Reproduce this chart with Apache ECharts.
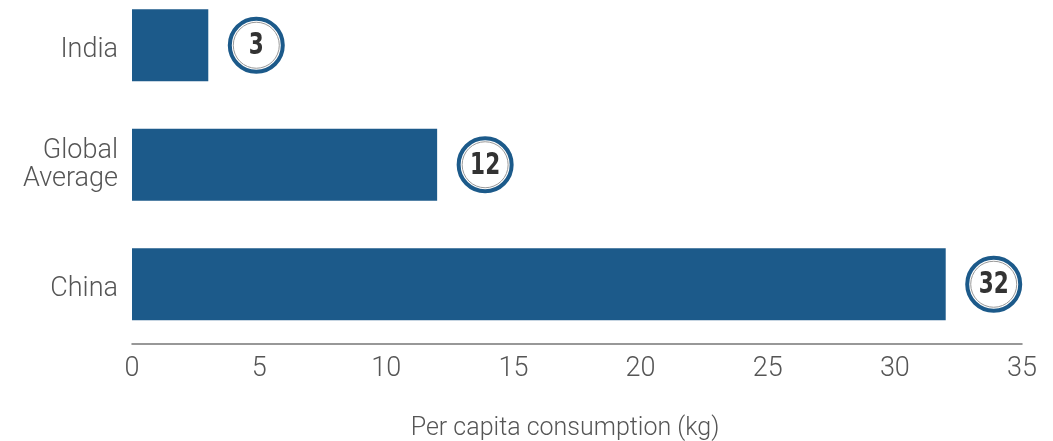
<!DOCTYPE html>
<html><head><meta charset="utf-8">
<script src="https://cdn.jsdelivr.net/npm/echarts@6/dist/echarts.min.js"></script>
<style>html,body{margin:0;padding:0;background:#fff}#c{width:1053px;height:441px}</style>
</head><body><div id="c"></div>
<script>
const categories = ['China', 'Global\nAverage', 'India'];
const values = [32, 12, 3];
const xTicks = [0, 35, 5];
const axisTitle = 'Per capita consumption (kg)';

const blue = '#1c5a8a';
const labelFont = { color: '#555', fontSize: 27, fontFamily: 'Roboto', fontWeight: 300 };
const chart = echarts.init(document.getElementById('c'));
chart.setOption({
  animation: false,
  grid: { left: 132, right: 31, top: -14.5, bottom: 97, containLabel: false, outerBoundsMode: 'none' },
  xAxis: {
    type: 'value', min: xTicks[0], max: xTicks[1], interval: xTicks[2],
    axisLine: { show: true, lineStyle: { color: '#777', width: 1.5 } },
    axisTick: { show: false }, splitLine: { show: false },
    axisLabel: Object.assign({ margin: 12 }, labelFont),
    name: axisTitle, nameLocation: 'middle', nameGap: 72,
    nameTextStyle: { color: '#555', fontSize: 25, fontFamily: 'Roboto', fontWeight: 300, padding: [0, 24, 0, 0] }
  },
  yAxis: {
    type: 'category', data: categories,
    axisLine: { show: false }, axisTick: { show: false },
    axisLabel: Object.assign({ margin: 14, lineHeight: 28,
      formatter: v => v.indexOf('\n') >= 0 ? v : '{s|' + v + '}',
      rich: { s: Object.assign({ padding: [10, 0, 0, 0], lineHeight: 28 }, labelFont) } }, labelFont)
  },
  series: [
    { type: 'bar', data: values, barWidth: 72, itemStyle: { color: blue } },
    {
      type: 'custom', data: values.map((v, i) => [v, i]),
      renderItem: function (params, api) {
        const p = api.coord([api.value(0), api.value(1)]);
        const cx = p[0] + 48, cy = p[1];
        return { type: 'group', children: [
          { type: 'circle', shape: { cx: cx, cy: cy, r: 26.5 }, style: { fill: '#fff', stroke: blue, lineWidth: 4 } },
          { type: 'circle', shape: { cx: cx, cy: cy, r: 23 }, style: { fill: 'none', stroke: '#999', lineWidth: 1 } },
          { type: 'text', x: cx, y: cy + 1, scaleX: 0.8, style: { x: 0, y: 0, text: String(api.value(0)), align: 'center', verticalAlign: 'middle',
            fill: '#333', font: 'bold 30px "Liberation Sans Narrow", "DejaVu Sans Condensed"' } }
        ]};
      }
    }
  ]
});
</script></body></html>
